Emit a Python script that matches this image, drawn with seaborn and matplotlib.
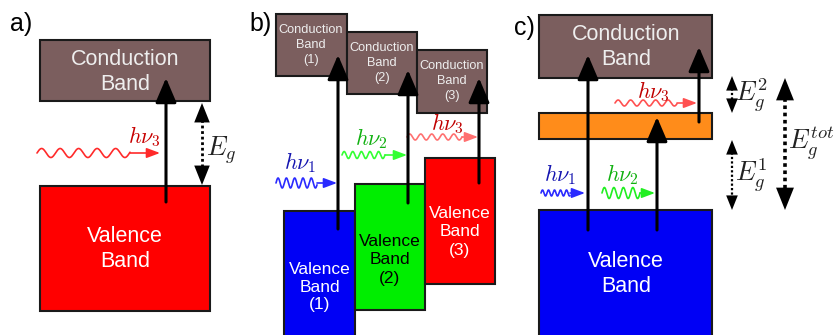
import numpy as np
import matplotlib
matplotlib.use("Agg")
import matplotlib.pyplot as plt
from matplotlib.patches import Rectangle, FancyArrowPatch
import seaborn as sns

sns.set_theme(style="white")
plt.rcParams['font.family'] = ['Liberation Sans', 'DejaVu Sans']
plt.rcParams['mathtext.fontset'] = 'cm'

# ---------------- data ----------------
# band boxes (pixel-like diagram units)
band_left   = [40, 40, 276, 347, 417, 284, 355, 425, 539, 539, 539]
band_right  = [210, 210, 347, 417, 487, 355, 425, 495, 712, 712, 712]
band_top    = [40, 186, 14, 32, 50, 211, 184, 158, 15, 113, 210]
band_bottom = [101, 311, 76, 94, 113, 345, 310, 284, 78, 139, 345]
band_colors = ['#7b5e5e', '#ff0000', '#7b5e5e', '#7b5e5e', '#7b5e5e',
               '#0000f5', '#00ee00', '#ff0000', '#7b5e5e', '#ff8c1a', '#0000f5']
band_texts  = ['Conduction\nBand', 'Valence\nBand',
               'Conduction\nBand\n(1)', 'Conduction\nBand\n(2)', 'Conduction\nBand\n(3)',
               'Valence\nBand\n(1)', 'Valence\nBand\n(2)', 'Valence\nBand\n(3)',
               'Conduction\nBand', '', 'Valence\nBand']
text_x      = [125, 125, 311, 382, 452, 320, 390, 460, 626, 626, 626]
text_y      = [72, 249, 45, 63, 81, 287, 260, 232, 47, 126, 274]
text_colors = ['#eeeeee', 'white', '#eeeeee', '#eeeeee', '#eeeeee',
               'white', 'black', 'white', '#eeeeee', 'white', 'white']
text_sizes  = [15.5, 15.5, 9.2, 9.2, 9.2, 12.5, 12.5, 12.5, 15.5, 15.5, 15.5]
text_spacing = [1.2, 1.2, 1.35, 1.35, 1.35, 1.25, 1.25, 1.25, 1.2, 1.2, 1.2]

# black transition arrows (x, y_start, y_end)
trans_x     = [166, 338, 408, 479, 588, 657, 699]
trans_y0    = [202, 229, 203, 183, 230, 230, 122]
trans_y1    = [78, 55, 70, 78, 55, 117, 47]

# photons: wave start, wave end, arrow end, y, amplitude, wavelength
ph_x0   = [37, 276, 342, 407, 541, 602, 615]
ph_xw   = [130, 317, 385, 462, 570, 640, 677]
ph_x1   = [160, 337, 407, 478, 585, 655, 697]
ph_y    = [153, 183, 155, 137, 193, 193, 103]
ph_amp  = [4.5, 5, 3.5, 3, 3, 5.5, 3]
ph_wl   = [18.5, 8.3, 8.6, 11, 6, 9.5, 12.5]
ph_line_colors = ['#ff2a2a', '#2a2aff', '#33ff33', '#ff7070', '#2a2aff', '#22ee22', '#ff5050']
ph_labels = [r'$h\nu_3$', r'$h\nu_1$', r'$h\nu_2$', r'$h\nu_3$', r'$h\nu_1$', r'$h\nu_2$', r'$h\nu_3$']
ph_lab_x  = [144, 300, 371, 447, 560, 622, 653]
ph_lab_y  = [137, 163, 139, 124, 175, 175, 92]
ph_lab_colors = ['#c80000', '#1515b0', '#10b010', '#c00000', '#1515b0', '#10b010', '#c00000']

# gap arrows (x, top, bottom, lw, head scale)
gap_x   = [202, 732, 732, 785]
gap_y0  = [103, 76, 140, 78]
gap_y1  = [185, 113, 210, 210]
gap_lw  = [2.0, 1.6, 1.6, 2.6]
gap_ms  = [20, 15, 15, 23]
gap_labels = [r'$E_g$', r'$E_g^2$', r'$E_g^1$', r'$E_g^{tot}$']
gap_lab_x  = [206, 735, 735, 788]
gap_lab_y  = [150, 95, 175, 143]

panel_labels = ['a)', 'b)', 'c)']
panel_x = [10, 249, 514]
panel_y = [24, 24, 28]

# ---------------- drawing ----------------
fig = plt.figure(figsize=(8.35, 3.35), dpi=100)
ax = fig.add_axes([0, 0, 1, 1])
ax.set_xlim(0, 835)
ax.set_ylim(335, 0)
ax.axis('off')

for l, r, t, b, c in zip(band_left, band_right, band_top, band_bottom, band_colors):
    ax.add_patch(Rectangle((l, t), r - l, b - t, facecolor=c, edgecolor='#1a1a1a',
                           lw=1.5, zorder=1))
for s, x, y, c, fs, ls in zip(band_texts, text_x, text_y, text_colors, text_sizes, text_spacing):
    ax.text(x, y, s, color=c, fontsize=fs, ha='center', va='center',
            linespacing=ls, zorder=2)

for x, y0, y1 in zip(trans_x, trans_y0, trans_y1):
    ax.add_patch(FancyArrowPatch((x, y0), (x, y1),
                                 arrowstyle='-|>,head_length=0.75,head_width=0.32',
                                 mutation_scale=20, lw=2.2, color='black',
                                 shrinkA=0, shrinkB=0, zorder=5))

for x0, xw, x1, y, a, wl, lc in zip(ph_x0, ph_xw, ph_x1, ph_y, ph_amp, ph_wl, ph_line_colors):
    xs = np.linspace(x0, xw, 300)
    ax.plot(xs, y - a * np.sin(2 * np.pi * (xs - x0) / wl), color=lc, lw=1.2, zorder=4)
    ax.add_patch(FancyArrowPatch((xw, y), (x1, y),
                                 arrowstyle='-|>,head_length=0.8,head_width=0.3',
                                 mutation_scale=10, lw=1.2, color=lc,
                                 shrinkA=0, shrinkB=0, zorder=4))
for s, x, y, c in zip(ph_labels, ph_lab_x, ph_lab_y, ph_lab_colors):
    ax.text(x, y, s, color=c, fontsize=16, ha='center', va='center', zorder=6)

for x, y0, y1, lw, ms in zip(gap_x, gap_y0, gap_y1, gap_lw, gap_ms):
    hl = 0.7 * ms
    ax.plot([x, x], [y0 + hl * 0.8, y1 - hl * 0.8], color='black', lw=lw,
            linestyle=(0, (1, 1)), solid_capstyle='butt', zorder=5)
    ax.add_patch(FancyArrowPatch((x, y1), (x, y0),
                                 arrowstyle='<|-|>,head_length=0.7,head_width=0.28',
                                 mutation_scale=ms, lw=0, facecolor='black',
                                 edgecolor='none', shrinkA=0, shrinkB=0, zorder=5))
for s, x, y in zip(gap_labels, gap_lab_x, gap_lab_y):
    ax.text(x, y, s, color='#222222', fontsize=19, ha='left', va='center', zorder=6)

for s, x, y in zip(panel_labels, panel_x, panel_y):
    ax.text(x, y, s, color='black', fontsize=18, ha='left', va='center')

fig.savefig('out.png', dpi=100)
